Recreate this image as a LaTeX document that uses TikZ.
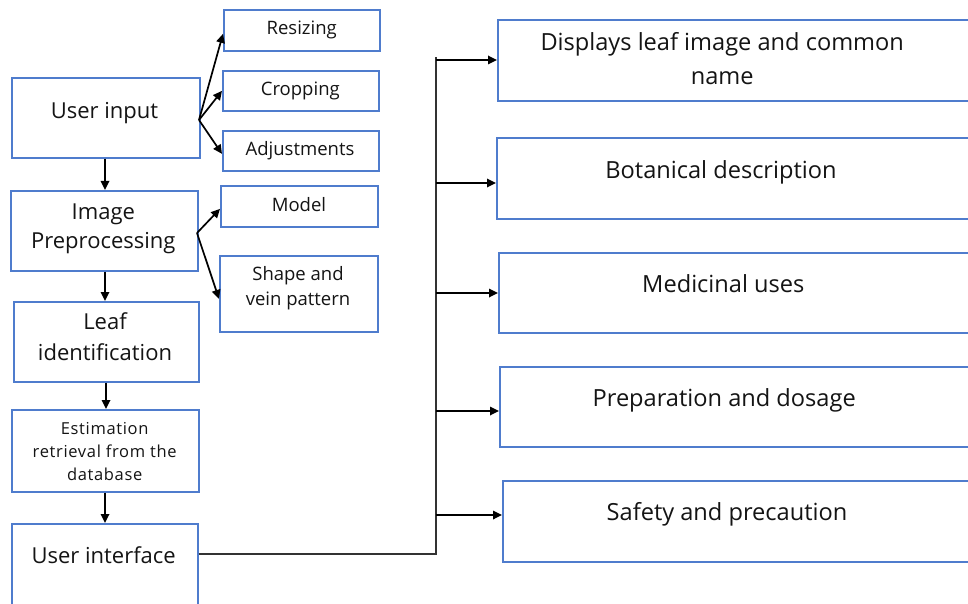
\documentclass[tikz,border=0pt]{standalone}
\usepackage{fontspec}
\setmainfont{Open Sans}
\newfontfamily\widesans[LetterSpace=4]{Open Sans}
\usetikzlibrary{arrows.meta,calc}
\definecolor{boxblue}{RGB}{79,124,205}
\definecolor{ink}{RGB}{20,20,20}
\tikzset{
  box/.style={draw=boxblue, line width=1.7pt, fill=white, inner sep=0pt, anchor=north west},
  bigtxt/.style={text=ink, anchor=base, align=center, inner sep=0pt, font=\fontsize{22}{30}\selectfont},
  rtxt/.style={text=ink, anchor=base, align=center, inner sep=0pt, font=\fontsize{23.6}{34}\selectfont},
  smalltxt/.style={text=ink, anchor=base, align=center, inner sep=0pt, font=\fontsize{18.5}{25}\selectfont},
  tinytxt/.style={text=ink, anchor=base, align=center, inner sep=0pt, font=\widesans\fontsize{16.5}{23.3}\selectfont},
  arr/.style={-{Triangle[length=9pt,width=8.5pt]}, line width=1.7pt, draw=black},
  bus/.style={line width=1.2pt, draw=black!80},
}
\begin{document}
\begin{tikzpicture}[x=1pt,y=-1pt]
\useasboundingbox (0,0) rectangle (968,604);
\clip (0,0) rectangle (968,604);
\fill[white] (0,0) rectangle (968,604);

% main pipeline
\node[box, minimum width=188, minimum height=80] (inp)  at (11,77)  {};
\node[box, minimum width=187, minimum height=80] (pre)  at (10,190) {};
\node[box, minimum width=185, minimum height=80] (leaf) at (13,301) {};
\node[box, minimum width=187, minimum height=82] (est)  at (11,409) {};
\node[box, minimum width=186, minimum height=92] (ui)   at (11,523) {};

% (multi-line labels are anchored at the baseline of their last line)
\node[bigtxt] (inp-t)  at (104.5,118.3) {User input};
\node[bigtxt, font=\fontsize{22}{29}\selectfont] (pre-t) at (103.3,248.3) {Image\\Preprocessing};
\node[bigtxt, font=\fontsize{22}{30.7}\selectfont] (leaf-t) at (105,360) {Leaf\\identification};
\node[tinytxt] (est-t) at (104.7,480.7) {Estimation\\retrieval from the\\database};
\node[bigtxt] (ui-t)   at (103.7,563.3) {User interface};

% preprocessing steps
\node[box, minimum width=156, minimum height=41] (res)  at (223,9)   {};
\node[box, minimum width=156, minimum height=40] (crop) at (222,70)  {};
\node[box, minimum width=156, minimum height=40] (adj)  at (222,130) {};
\node[box, minimum width=157, minimum height=41] (mod)  at (220,185) {};
\node[box, minimum width=158, minimum height=76] (shp)  at (219,255) {};

\node[smalltxt] (res-t)  at (301.7,34.3)  {Resizing};
\node[smalltxt] (crop-t) at (300.3,95.7)  {Cropping};
\node[smalltxt] (adj-t)  at (300,155.7)   {Adjustments};
\node[smalltxt] (mod-t)  at (299,211)     {Model};
\node[smalltxt] (shp-t)  at (298,305)     {Shape and\\vein pattern};

% output panels
\node[box, minimum width=490, minimum height=81] (disp) at (497,19)  {};
\node[box, minimum width=490, minimum height=81] (bot)  at (496,137) {};
\node[box, minimum width=490, minimum height=80] (med)  at (498,252) {};
\node[box, minimum width=490, minimum height=80] (prep) at (499,366) {};
\node[box, minimum width=490, minimum height=81] (saf)  at (502,480) {};

\node[rtxt] (disp-t) at (722.2,85)  {Displays leaf image and common\\name};
\node[rtxt] (bot-t)  at (721,178.3) {Botanical description};
\node[rtxt] (med-t)  at (723.3,292.7) {Medicinal uses};
\node[rtxt] (prep-t) at (724.2,406.7) {Preparation and dosage};
\node[rtxt] (saf-t)  at (727,520.7) {Safety and precaution};

% vertical flow
\draw[arr] (inp.south -| 105,0) -- (pre.north -| 105,0);
\draw[arr] (pre.south -| 105,0) -- (leaf.north -| 105,0);
\draw[arr] (leaf.south -| 106,0) -- (est.north -| 106,0);
\draw[arr] (est.south -| 105,0) -- (ui.north -| 105,0);

% fan-out to the preprocessing steps
\coordinate (o1) at (199,120);
\coordinate (o2) at (197,233);
\draw[arr] (o1) -- ([yshift=-3.5pt]res.west);
\draw[arr] (o1) -- (crop.west);
\draw[arr] (o1) -- ([yshift=-3pt]adj.west);
\draw[arr] (o2) -- ([yshift=-2.5pt]mod.west);
\draw[arr] (o2) -- ([yshift=-5pt]shp.west);

% bus from the user interface to the output panels
\coordinate (bt) at (436,57);
\coordinate (bb) at (436,554);
\draw[bus] (ui.east |- bb) -- (bb) -- (bt);
\coordinate (a1) at (436,60);
\coordinate (a2) at (436,183);
\coordinate (a3) at (436,293);
\coordinate (a4) at (436,411);
\coordinate (a5) at (436,515);
\draw[arr] (a1) -- (a1 -| disp.west);
\draw[arr] (a2) -- (a2 -| bot.west);
\draw[arr] (a3) -- (a3 -| med.west);
\draw[arr] (a4) -- (a4 -| prep.west);
\draw[arr] (a5) -- (a5 -| saf.west);
\end{tikzpicture}
\end{document}
